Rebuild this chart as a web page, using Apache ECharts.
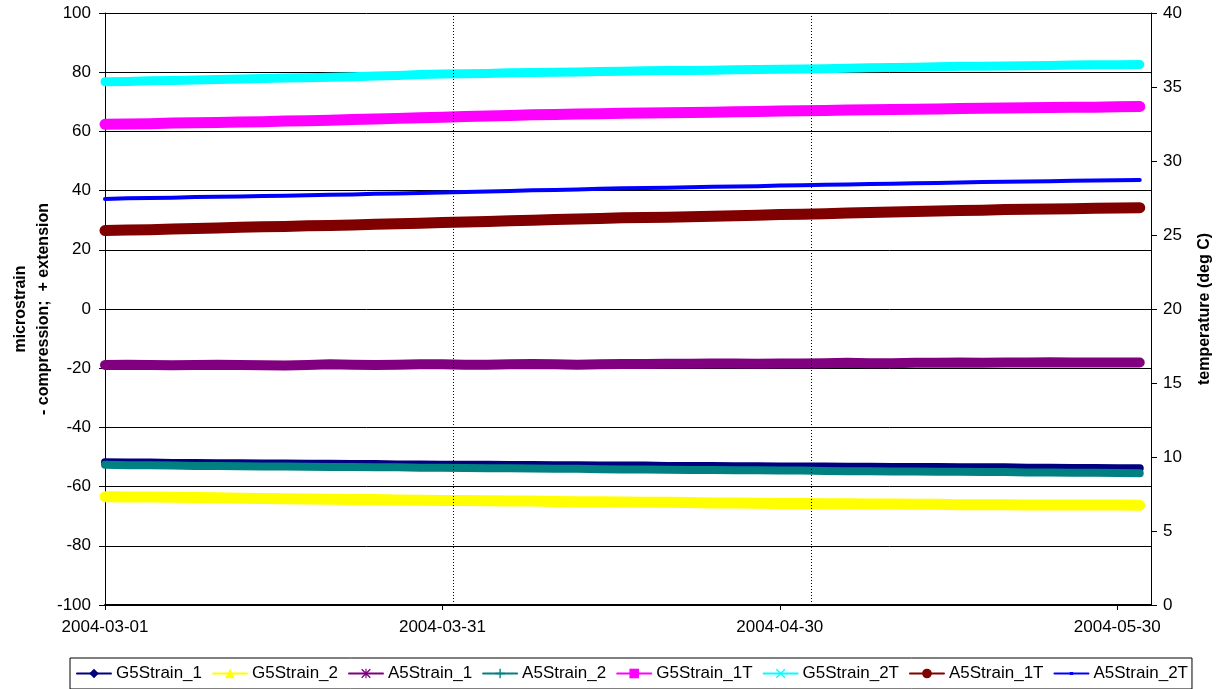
<!DOCTYPE html>
<html>
<head>
<meta charset="utf-8">
<script src="https://cdn.jsdelivr.net/npm/echarts@6/dist/echarts.min.js"></script>
<style>
  html, body { margin: 0; padding: 0; background: #fff; }
  #main { width: 1220px; height: 689px; }
</style>
</head>
<body>
<div id="main"></div>
<script>
// days since 2004-03-01, one reading every 2 days
const days = [];
for (let d = 0; d <= 92; d += 2) days.push(d);

const g5Strain1 = [-51.8, -51.9, -51.9, -52.0, -52.0, -52.1, -52.1, -52.2, -52.2, -52.3, -52.3, -52.4, -52.4, -52.5, -52.5, -52.6, -52.6, -52.6, -52.7, -52.7, -52.8, -52.8, -52.9, -52.9, -52.9, -53.0, -53.0, -53.0, -53.1, -53.1, -53.2, -53.2, -53.2, -53.3, -53.3, -53.4, -53.4, -53.4, -53.5, -53.5, -53.5, -53.6, -53.6, -53.7, -53.7, -53.8, -53.8];
const g5Strain2 = [-63.4, -63.5, -63.5, -63.6, -63.7, -63.8, -63.9, -64.0, -64.1, -64.2, -64.3, -64.4, -64.4, -64.5, -64.6, -64.7, -64.7, -64.8, -64.9, -64.9, -65.0, -65.1, -65.1, -65.2, -65.3, -65.3, -65.4, -65.5, -65.5, -65.6, -65.7, -65.7, -65.8, -65.8, -65.9, -65.9, -66.0, -66.0, -66.1, -66.1, -66.1, -66.2, -66.2, -66.2, -66.2, -66.2, -66.3];
const a5Strain1 = [-18.9, -18.8, -18.9, -19.0, -18.9, -18.8, -18.9, -19.0, -19.1, -18.9, -18.7, -18.8, -18.9, -18.8, -18.7, -18.7, -18.8, -18.8, -18.7, -18.6, -18.7, -18.8, -18.7, -18.6, -18.6, -18.5, -18.5, -18.4, -18.4, -18.5, -18.4, -18.4, -18.3, -18.2, -18.3, -18.3, -18.2, -18.2, -18.1, -18.2, -18.1, -18.1, -18.0, -18.1, -18.1, -18.1, -18.1];
const a5Strain2 = [-52.6, -52.8, -52.8, -52.9, -53.0, -53.0, -53.1, -53.2, -53.2, -53.3, -53.4, -53.4, -53.5, -53.5, -53.6, -53.6, -53.7, -53.8, -53.8, -53.9, -54.0, -54.0, -54.1, -54.2, -54.2, -54.3, -54.4, -54.4, -54.5, -54.5, -54.6, -54.6, -54.7, -54.8, -54.8, -54.9, -54.9, -55.0, -55.0, -55.1, -55.1, -55.2, -55.2, -55.3, -55.3, -55.4, -55.5];
const g5Strain1T = [62.4, 62.5, 62.6, 62.8, 62.9, 63.0, 63.2, 63.3, 63.5, 63.6, 63.8, 64.0, 64.2, 64.4, 64.6, 64.8, 65.0, 65.2, 65.4, 65.6, 65.7, 65.9, 66.0, 66.1, 66.2, 66.3, 66.4, 66.5, 66.6, 66.7, 66.9, 67.0, 67.1, 67.2, 67.3, 67.4, 67.5, 67.6, 67.7, 67.8, 67.9, 68.0, 68.1, 68.2, 68.2, 68.3, 68.4];
const g5Strain2T = [76.8, 76.9, 77.1, 77.2, 77.4, 77.5, 77.7, 77.9, 78.0, 78.1, 78.3, 78.5, 78.7, 78.9, 79.2, 79.4, 79.5, 79.6, 79.8, 79.9, 80.0, 80.1, 80.2, 80.3, 80.5, 80.6, 80.6, 80.7, 80.8, 80.9, 81.0, 81.1, 81.2, 81.3, 81.5, 81.6, 81.7, 81.8, 82.0, 82.0, 82.1, 82.2, 82.3, 82.4, 82.5, 82.5, 82.6];
const a5Strain1T = [26.5, 26.7, 26.8, 27.0, 27.2, 27.4, 27.6, 27.8, 27.9, 28.1, 28.2, 28.4, 28.6, 28.8, 29.0, 29.2, 29.4, 29.6, 29.8, 30.0, 30.2, 30.4, 30.6, 30.8, 30.9, 31.0, 31.2, 31.3, 31.5, 31.7, 31.9, 32.0, 32.2, 32.4, 32.6, 32.8, 32.9, 33.1, 33.3, 33.4, 33.6, 33.7, 33.8, 33.9, 34.0, 34.1, 34.2];
const a5Strain2T = [37.2, 37.4, 37.5, 37.6, 37.8, 37.9, 38.0, 38.2, 38.3, 38.4, 38.6, 38.7, 38.9, 39.0, 39.2, 39.4, 39.5, 39.7, 39.9, 40.1, 40.2, 40.4, 40.6, 40.8, 40.9, 41.0, 41.1, 41.3, 41.4, 41.5, 41.7, 41.8, 42.0, 42.1, 42.2, 42.3, 42.5, 42.6, 42.7, 42.9, 43.0, 43.1, 43.2, 43.3, 43.4, 43.5, 43.6];

// dotted reference lines (days since 2004-03-01)
const refDays = [31, 62.8];

const FONT = '"Liberation Sans", Arial, sans-serif';
const START = Date.UTC(2004, 2, 1);

const SYM_X = 'path://M0,1 L1,0 L5,4 L9,0 L10,1 L6,5 L10,9 L9,10 L5,6 L1,10 L0,9 L4,5 Z';
const SYM_PLUS = 'path://M0,0 L0.01,0 Z M4.3,0 H5.7 V4.3 H10 V5.7 H5.7 V10 H4.3 V5.7 H0 V4.3 H4.3 Z M10,10 L9.99,10 Z';
const SYM_STAR = 'path://M0,1 L1,0 L5,4 L9,0 L10,1 L6,5 L10,9 L9,10 L5,6 L1,10 L0,9 L4,5 Z M4.4,0 H5.6 V10 H4.4 Z';
const SYM_DASH = 'path://M0,0 L0.01,0 Z M3.2,3.5 H6.8 V6.5 H3.2 Z M10,10 L9.99,10 Z';

function pairs(vals) {
    return days.map((d, i) => [d, vals[i]]);
}

function mk(name, vals, color, symbol, width) {
    return {
        name: name,
        type: 'line',
        data: pairs(vals),
        symbol: symbol,
        showSymbol: false,
        color: color,
        lineStyle: { color: color, width: width, join: 'round', cap: 'round' },
        itemStyle: { color: color },
        emphasis: { disabled: true }
    };
}

const series = [
    mk('G5Strain_1', g5Strain1, '#000080', 'diamond', 8),
    mk('G5Strain_2', g5Strain2, '#ffff00', 'triangle', 11),
    mk('A5Strain_1', a5Strain1, '#800080', SYM_STAR, 10),
    mk('A5Strain_2', a5Strain2, '#008080', SYM_PLUS, 8),
    mk('G5Strain_1T', g5Strain1T, '#ff00ff', 'rect', 11),
    mk('G5Strain_2T', g5Strain2T, '#00ffff', SYM_X, 9),
    mk('A5Strain_1T', a5Strain1T, '#800000', 'circle', 11),
    mk('A5Strain_2T', a5Strain2T, '#0000ff', SYM_DASH, 4)
];

series[0].markLine = {
    silent: true,
    symbol: ['none', 'none'],
    label: { show: false },
    lineStyle: { color: '#000', width: 1, type: [1, 2] },
    data: refDays.map(d => ({ xAxis: d }))
};

const myChart = echarts.init(document.getElementById('main'));
const option = {
    animation: false,
    backgroundColor: '#fff',
    textStyle: { fontFamily: FONT, color: '#000' },
    grid: { left: 105, right: 69, top: 13, bottom: 84, outerBoundsMode: 'none' },
    legend: {
        left: 70,
        top: 658,
        padding: [7, 4, 7, 6],
        borderColor: '#000',
        borderWidth: 1,
        borderRadius: 0,
        itemGap: 10,
        itemWidth: 34,
        itemHeight: 12,
        lineStyle: { width: 2 },
        textStyle: { fontFamily: FONT, fontSize: 17, color: '#000' },
        data: series.map(s => s.name)
    },
    xAxis: {
        type: 'value',
        min: 0,
        max: 93,
        interval: 30,
        axisLine: { show: true, onZero: false, lineStyle: { color: '#000', width: 2 } },
        axisTick: { show: true, length: 5, lineStyle: { color: '#000' } },
        axisLabel: {
            margin: 14,
            fontSize: 17,
            fontFamily: FONT,
            color: '#000',
            showMaxLabel: false,
            formatter: v => new Date(START + v * 86400000).toISOString().slice(0, 10)
        },
        splitLine: { show: false }
    },
    yAxis: [
        {
            type: 'value',
            min: -100,
            max: 100,
            interval: 20,
            name: 'microstrain\n- compression;  + extension',
            nameLocation: 'middle',
            nameRotate: 90,
            nameGap: 50,
            nameMoveOverlap: false,
            nameTextStyle: { fontFamily: FONT, fontSize: 16, fontWeight: 'bold', lineHeight: 23, color: '#000' },
            axisLine: { show: true, lineStyle: { color: '#000', width: 1 } },
            axisTick: { show: true, length: 6, lineStyle: { color: '#000' } },
            axisLabel: { margin: 14, fontSize: 17, fontFamily: FONT, color: '#000' },
            splitLine: { show: true, lineStyle: { color: '#000', width: 1 } }
        },
        {
            type: 'value',
            position: 'right',
            min: 0,
            max: 40,
            interval: 5,
            name: 'temperature (deg C)',
            nameLocation: 'middle',
            nameRotate: 90,
            nameGap: 46,
            nameMoveOverlap: false,
            nameTextStyle: { fontFamily: FONT, fontSize: 16, fontWeight: 'bold', color: '#000' },
            axisLine: { show: true, lineStyle: { color: '#000', width: 1 } },
            axisTick: { show: true, length: 6, lineStyle: { color: '#000' } },
            axisLabel: { margin: 12, fontSize: 17, fontFamily: FONT, color: '#000' },
            splitLine: { show: false }
        }
    ],
    series: series
};
option && myChart.setOption(option);
</script>
</body>
</html>
